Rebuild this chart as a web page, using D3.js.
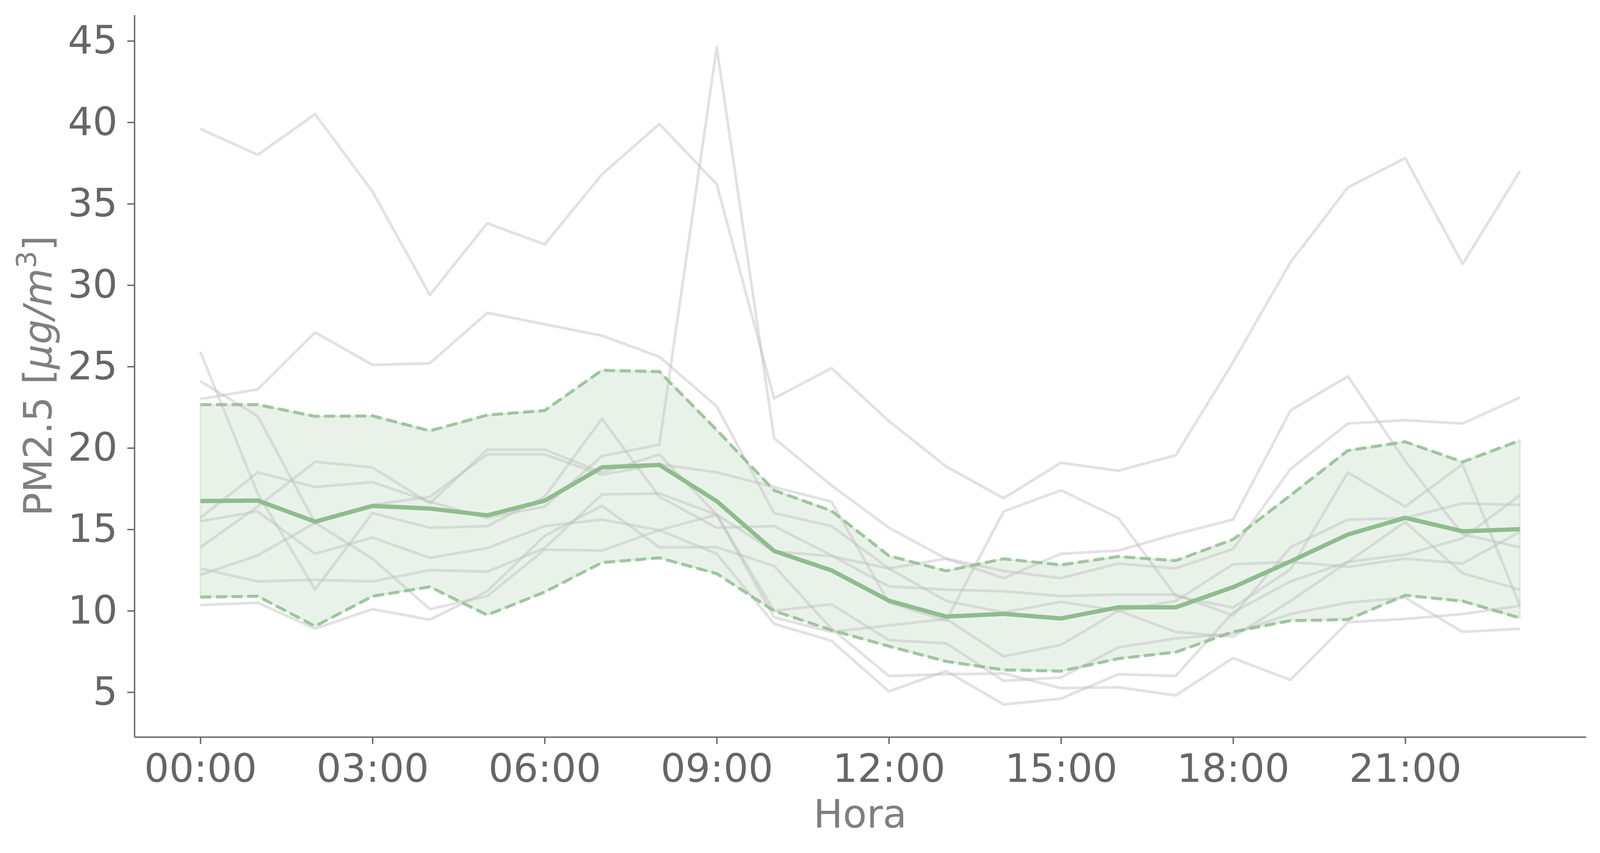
<!DOCTYPE html>
<html>
<head>
<meta charset="utf-8">
<script src="https://cdn.jsdelivr.net/npm/d3@7"></script>
<style>
  body { margin: 0; background: #fff; }
  svg text { font-family: "DejaVu Sans", sans-serif; }
</style>
</head>
<body>
<svg id="chart"></svg>
<script>
// Daily PM2.5 profile: one grey line per station, mean and band in green

const hours = [0, 1, 2, 3, 4, 5, 6, 7, 8, 9, 10, 11, 12, 13, 14, 15, 16, 17, 18, 19, 20, 21, 22, 23];
const xTickValues = [0, 3, 6, 9, 12, 15, 18, 21];
const xTickLabels = ["00:00", "03:00", "06:00", "09:00", "12:00", "15:00", "18:00", "21:00"];
const yTickValues = [5, 10, 15, 20, 25, 30, 35, 40, 45];

// individual stations (grey lines)
const station1 = [39.6, 38.0, 40.5, 35.75, 29.4, 33.8, 32.5, 36.8, 39.9, 36.2, 23.05, 24.9, 21.65, 18.86, 16.91, 19.09, 18.6, 19.55, 25.27, 31.4, 36.0, 37.8, 31.3, 37.0];
const station2 = [15.7, 18.5, 17.6, 17.9, 16.7, 15.7, 16.4, 19.5, 20.2, 44.6, 20.6, 17.7, 15.1, 13.2, 12.0, 13.5, 13.7, 14.7, 15.6, 22.3, 24.4, 19.2, 14.7, 13.9];
const station3 = [23.0, 23.6, 27.1, 25.1, 25.2, 28.3, 27.6, 26.9, 25.6, 22.55, 16.0, 15.2, 12.6, 13.2, 12.45, 12.0, 12.9, 12.6, 13.8, 18.7, 21.5, 21.7, 21.5, 23.1];
const station4 = [13.9, 16.4, 19.15, 18.8, 16.6, 19.9, 19.9, 18.5, 19.6, 15.9, 10.0, 10.4, 8.2, 8.0, 5.7, 5.9, 7.75, 8.3, 8.6, 9.8, 10.5, 10.8, 8.7, 8.9];
const station5 = [12.2, 13.4, 15.4, 16.5, 17.0, 19.6, 19.6, 18.35, 19.0, 18.5, 17.6, 16.7, 10.5, 9.4, 16.1, 17.4, 15.7, 10.9, 10.2, 12.55, 18.5, 16.4, 19.0, 10.3];
const station6 = [25.9, 17.2, 11.3, 16.0, 15.1, 15.2, 17.0, 21.8, 17.0, 15.1, 15.2, 13.4, 11.5, 11.3, 11.2, 10.9, 11.0, 11.0, 9.7, 13.9, 15.6, 15.7, 16.6, 16.5];
const station7 = [15.5, 16.1, 13.5, 14.5, 13.25, 13.85, 15.2, 15.6, 14.95, 15.9, 9.6, 8.7, 9.1, 9.5, 7.2, 7.9, 10.0, 10.6, 12.85, 13.0, 12.7, 13.2, 12.9, 14.85];
const station8 = [12.6, 11.8, 11.9, 11.8, 12.5, 12.4, 13.85, 17.15, 17.2, 15.9, 13.65, 13.35, 12.6, 10.6, 9.9, 10.55, 10.0, 8.7, 8.4, 10.6, 13.0, 15.45, 12.3, 11.3];
const station9 = [24.1, 21.95, 15.4, 13.2, 10.1, 10.9, 13.75, 13.7, 14.95, 13.5, 9.2, 8.15, 5.05, 6.3, 4.25, 4.6, 6.1, 6.0, 9.9, 11.8, 13.0, 13.45, 14.45, 17.1];
const station10 = [10.35, 10.5, 8.9, 10.1, 9.45, 11.2, 14.6, 16.45, 13.9, 13.9, 12.75, 8.9, 6.0, 6.1, 6.15, 5.25, 5.3, 4.8, 7.1, 5.75, 9.3, 9.5, 9.8, 10.3];

// summary lines
const meanValues = [16.74, 16.77, 15.47, 16.44, 16.28, 15.86, 16.76, 18.81, 18.96, 16.73, 13.67, 12.48, 10.62, 9.64, 9.81, 9.53, 10.21, 10.21, 11.45, 13.03, 14.68, 15.71, 14.88, 15.01];
const upperValues = [22.66, 22.66, 21.94, 21.97, 21.05, 22.02, 22.3, 24.77, 24.69, 21.1, 17.4, 16.14, 13.38, 12.45, 13.19, 12.82, 13.33, 13.08, 14.38, 17.09, 19.84, 20.38, 19.14, 20.46];
const lowerValues = [10.84, 10.89, 9.05, 10.89, 11.47, 9.74, 11.15, 12.96, 13.25, 12.28, 9.99, 8.81, 7.82, 6.89, 6.37, 6.29, 7.06, 7.46, 8.71, 9.39, 9.46, 10.95, 10.59, 9.56];

const stations = [station1, station2, station3, station4, station5, station6, station7, station8, station9, station10];

const width = 4103;
const height = 2183;
const margin = { top: 38, right: 43, bottom: 297, left: 344 };

const svg = d3.select("#chart").attr("width", width).attr("height", height);

const x = d3.scaleLinear()
    .domain([-1.15, 24.15])
    .range([margin.left, width - margin.right]);

const y = d3.scaleLinear()
    .domain([2.25, 46.6])
    .range([height - margin.bottom, margin.top]);

const green = "#8fbc8f";
const axisColor = "#666666";
const fontSize = 100;

// band between lower and upper
const band = d3.area()
    .x((d, i) => x(hours[i]))
    .y0((d, i) => y(lowerValues[i]))
    .y1((d, i) => y(upperValues[i]));

svg.append("path")
    .datum(upperValues)
    .attr("d", band)
    .attr("fill", green)
    .attr("fill-opacity", 0.2)
    .attr("stroke", green)
    .attr("stroke-opacity", 0.2)
    .attr("stroke-width", 5);

const line = d3.line()
    .x((d, i) => x(hours[i]))
    .y(d => y(d));

// grey station lines
svg.append("g")
    .selectAll("path")
    .data(stations)
    .join("path")
    .attr("d", line)
    .attr("fill", "none")
    .attr("stroke", "#bebebe")
    .attr("stroke-opacity", 0.45)
    .attr("stroke-width", 7)
    .attr("stroke-linejoin", "round");

// dashed band edges
[upperValues, lowerValues].forEach(vals => {
    svg.append("path")
        .datum(vals)
        .attr("d", line)
        .attr("fill", "none")
        .attr("stroke", green)
        .attr("stroke-opacity", 0.8)
        .attr("stroke-width", 8)
        .attr("stroke-dasharray", "28,12");
});

// mean line
svg.append("path")
    .datum(meanValues)
    .attr("d", line)
    .attr("fill", "none")
    .attr("stroke", green)
    .attr("stroke-width", 11)
    .attr("stroke-linejoin", "round");

// axes
const xAxis = d3.axisBottom(x)
    .tickValues(xTickValues)
    .tickFormat((d, i) => xTickLabels[i])
    .tickSize(18)
    .tickSizeOuter(0)
    .tickPadding(26);

const yAxis = d3.axisLeft(y)
    .tickValues(yTickValues)
    .tickSize(18)
    .tickSizeOuter(0)
    .tickPadding(25);

const gx = svg.append("g")
    .attr("transform", `translate(0,${height - margin.bottom})`)
    .call(xAxis);

const gy = svg.append("g")
    .attr("transform", `translate(${margin.left},0)`)
    .call(yAxis);

[gx, gy].forEach(g => {
    g.select(".domain").attr("stroke", axisColor).attr("stroke-width", 3.5);
    g.selectAll(".tick line").attr("stroke", axisColor).attr("stroke-width", 3.5);
    g.selectAll(".tick text")
        .attr("fill", axisColor)
        .attr("font-size", fontSize)
        .attr("font-family", "DejaVu Sans");
});

// axis titles
svg.append("text")
    .attr("x", (margin.left + width - margin.right) / 2)
    .attr("y", 2118)
    .attr("text-anchor", "middle")
    .attr("fill", "#7f7f7f")
    .attr("font-size", fontSize)
    .text("Hora");

const yLabel = svg.append("text")
    .attr("transform", `translate(132,${(margin.top + height - margin.bottom) / 2}) rotate(-90)`)
    .attr("text-anchor", "middle")
    .attr("fill", "#7f7f7f")
    .attr("font-size", fontSize);

yLabel.append("tspan").text("PM2.5 [");
yLabel.append("tspan").attr("font-style", "italic").text("μg/m");
yLabel.append("tspan")
    .attr("font-size", fontSize * 0.7)
    .attr("dy", -fontSize * 0.4)
    .text("3");
yLabel.append("tspan")
    .attr("dy", fontSize * 0.4)
    .text("]");
</script>
</body>
</html>
